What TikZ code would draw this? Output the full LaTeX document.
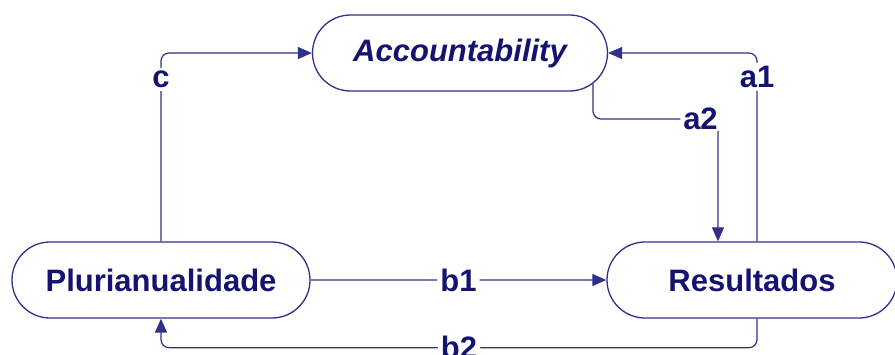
\documentclass[tikz,border=0pt]{standalone}
\usepackage{fontspec}
\setmainfont{Liberation Sans}
\usetikzlibrary{shapes.misc,arrows.meta}
\definecolor{navy}{RGB}{20,20,112}
\definecolor{wire}{RGB}{48,48,140}
\tikzset{
  box/.style={rounded rectangle, draw=wire, line width=1.3pt,
    minimum height=76pt, inner sep=0pt, text=navy,
    font=\fontsize{31}{37}\selectfont\bfseries},
  lbl/.style={fill=white, inner sep=3pt, text=navy,
    font=\fontsize{31}{37}\selectfont\bfseries},
  link/.style={draw=wire, line width=1.2pt, rounded corners=8pt},
  arr/.style={link, -{Triangle[length=14pt,width=12pt]}}
}
\begin{document}
\begin{tikzpicture}[x=1pt,y=-1pt]
      \useasboundingbox (0,0) rectangle (895,354);
      \node[box, minimum width=295pt] (acc) at (460,53) {\itshape Accountability};
      \node[box, minimum width=298pt] (pluri) at (161,280) {Plurianualidade};
      \node[box, minimum width=290pt] (res) at (752,280) {Resultados};
      \coordinate (a2turn) at (718,119);
      \begin{scope}
        \draw[arr] (pluri.north) |- (acc.west) node[lbl, pos=0.43]{c};
        \draw[arr] ([xshift=5pt]res.north) |- (acc.east) node[lbl, pos=0.437]{a1};
        \draw[arr] (acc.-13) |- (a2turn) node[lbl, pos=0.93]{a2}
          -- ([xshift=-34pt]res.north);
        \draw[arr] (pluri) -- (res) node[lbl, midway]{b1};
        \draw[arr] ([xshift=5pt]res.south) -- ++(0,29) -| (pluri.south)
          node[lbl, pos=0.25]{b2};
      \end{scope}
    \end{tikzpicture}
\end{document}
